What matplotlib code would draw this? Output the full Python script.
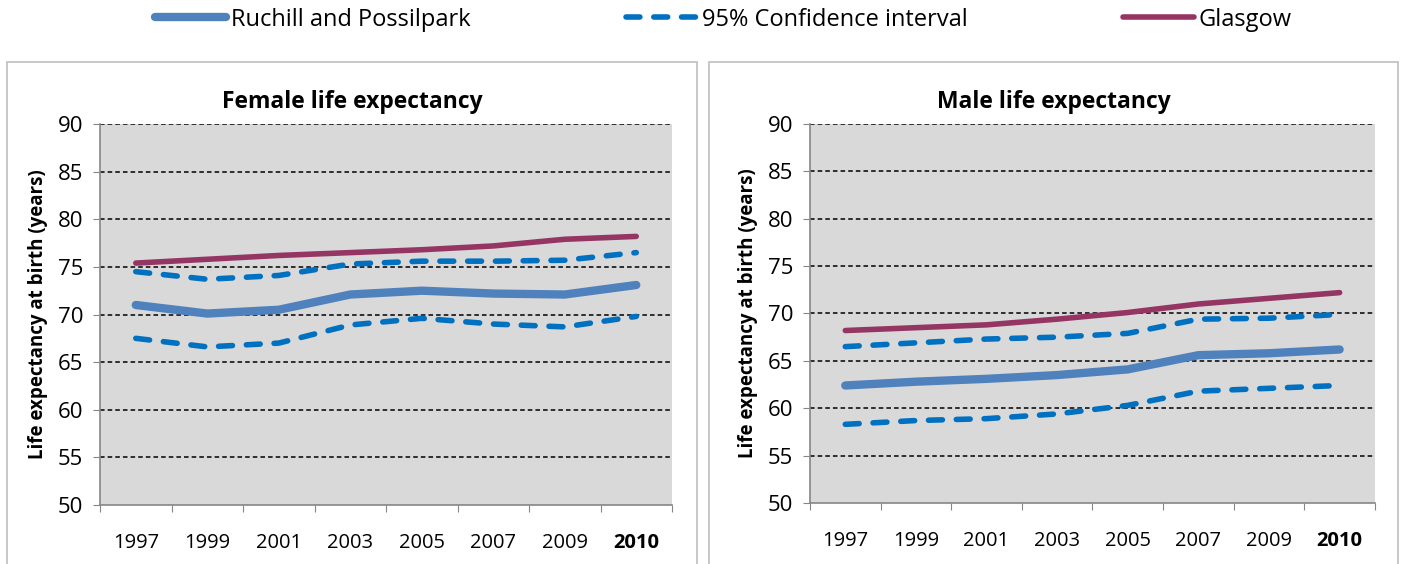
import matplotlib.pyplot as plt
from matplotlib.patches import Rectangle
from matplotlib.lines import Line2D

plt.rcParams['font.family'] = ['Open Sans', 'DejaVu Sans']

years = ['1997', '1999', '2001', '2003', '2005', '2007', '2009', '2010']

# female
f_glasgow = [75.4, 75.8, 76.2, 76.5, 76.8, 77.2, 77.9, 78.2]
f_ruchill = [71.0, 70.1, 70.5, 72.1, 72.5, 72.2, 72.1, 73.1]
f_upper = [74.5, 73.7, 74.1, 75.3, 75.6, 75.6, 75.7, 76.5]
f_lower = [67.5, 66.6, 67.0, 68.9, 69.6, 69.0, 68.7, 69.8]

# male
m_glasgow = [68.2, 68.5, 68.8, 69.4, 70.1, 71.0, 71.6, 72.2]
m_ruchill = [62.4, 62.8, 63.1, 63.5, 64.1, 65.6, 65.8, 66.2]
m_upper = [66.5, 66.9, 67.3, 67.5, 67.9, 69.4, 69.5, 69.9]
m_lower = [58.3, 58.7, 58.9, 59.4, 60.3, 61.8, 62.1, 62.4]

c_ruchill = '#4F81BD'
c_ci = '#0070C0'
c_glasgow = '#953564'
ci_dash = (0, (2.5, 2.5))

fig = plt.figure(figsize=(14.05, 5.64), dpi=100)

# panel borders
panels = [(0.005, 0.491), (0.5046, 0.4904)]
for x0, w in panels:
    fig.patches.append(Rectangle((x0, -0.01), w, 0.90, transform=fig.transFigure,
                                 fill=False, edgecolor='#BFBFBF', linewidth=1.2))


def draw_panel(ax, title, panel, glasgow, ruchill, upper, lower):
    x = list(range(len(years)))
    ax.set_facecolor('#D9D9D9')
    for v in range(55, 91, 5):
        ax.axhline(v, color='black', linestyle=(0, (3, 2)), linewidth=1.1, zorder=1)
    ax.plot(x, upper, color=c_ci, linewidth=4, linestyle=ci_dash,
            dash_capstyle='round', zorder=3)
    ax.plot(x, lower, color=c_ci, linewidth=4, linestyle=ci_dash,
            dash_capstyle='round', zorder=3)
    ax.plot(x, ruchill, color=c_ruchill, linewidth=6, solid_capstyle='round', zorder=4)
    ax.plot(x, glasgow, color=c_glasgow, linewidth=4, solid_capstyle='round', zorder=5)
    ax.set_xlim(-0.5, len(years) - 0.5)
    ax.set_ylim(50, 90)
    ax.set_yticks(range(50, 91, 5))
    ax.tick_params(axis='y', labelsize=16, length=5, color='#868686', pad=7)
    ax.set_xticks([i - 0.5 for i in range(len(years) + 1)])
    ax.set_xticklabels([])
    ax.set_xticks(x, minor=True)
    ax.set_xticklabels(years, minor=True, fontsize=14.5)
    ax.tick_params(axis='x', which='major', length=5, color='#868686')
    ax.tick_params(axis='x', which='minor', length=0, pad=20)
    ax.get_xticklabels(minor=True)[-1].set_fontweight('bold')
    for s in ['top', 'right']:
        ax.spines[s].set_visible(False)
    for s in ['left', 'bottom']:
        ax.spines[s].set_color('#868686')
        ax.spines[s].set_linewidth(1.2)
    fig.text(panel[0] + panel[1] / 2, 0.82, title, fontsize=16.5, fontweight='bold',
             ha='center', va='center')
    ax.set_ylabel('Life expectancy at birth (years)', fontsize=13.5, fontweight='bold', labelpad=7)


ax1 = fig.add_axes([0.0712, 0.1046, 0.4071, 0.6755])
draw_panel(ax1, 'Female life expectancy', panels[0], f_glasgow, f_ruchill, f_upper, f_lower)
ax2 = fig.add_axes([0.5765, 0.1082, 0.4021, 0.6720])
draw_panel(ax2, 'Male life expectancy', panels[1], m_glasgow, m_ruchill, m_upper, m_lower)

handles = [
    Line2D([], [], color=c_ruchill, linewidth=6, solid_capstyle='round'),
    Line2D([], [], color=c_ci, linewidth=4, linestyle=ci_dash, dash_capstyle='round'),
    Line2D([], [], color=c_glasgow, linewidth=4, solid_capstyle='round'),
]
labels = ['Ruchill and Possilpark', '95% Confidence interval', 'Glasgow']
fig.legend(handles, labels, loc='center', bbox_to_anchor=(0.515, 0.965), ncol=3,
           frameon=False, fontsize=17, handlelength=3.0, handletextpad=0.2,
           columnspacing=6.6)

fig.savefig('out.png', dpi=100)
